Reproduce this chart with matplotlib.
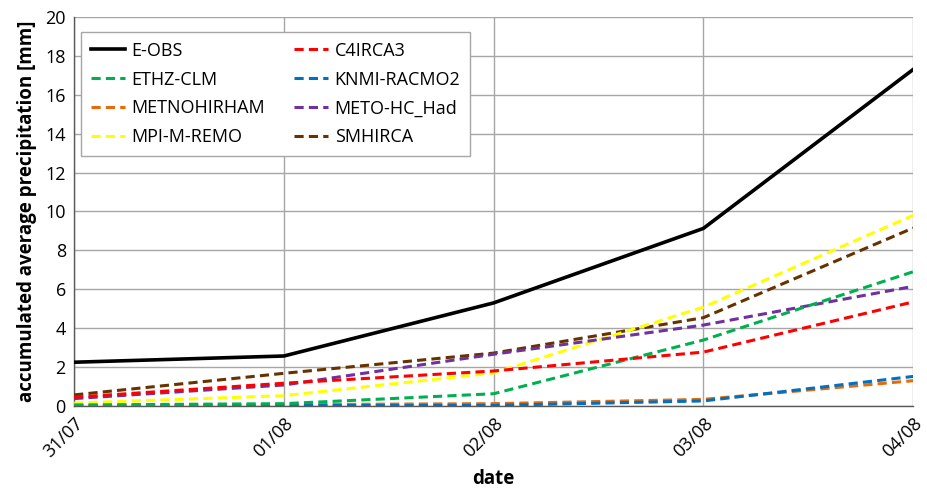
import matplotlib
matplotlib.use("Agg")
import matplotlib.pyplot as plt

plt.rcParams['font.family'] = ['Open Sans', 'DejaVu Sans']

dates = ['31/07', '01/08', '02/08', '03/08', '04/08']

e_obs = [2.25, 2.57, 5.3, 9.13, 17.3]
c4irca3 = [0.45, 1.17, 1.8, 2.77, 5.35]
ethz_clm = [0.05, 0.12, 0.63, 3.39, 6.9]
knmi_racmo2 = [0.0, 0.02, 0.03, 0.26, 1.52]
metnohirham = [0.03, 0.07, 0.12, 0.34, 1.3]
meto_hc_had = [0.38, 1.08, 2.66, 4.16, 6.15]
mpi_m_remo = [0.15, 0.53, 1.7, 5.08, 9.8]
smhirca = [0.57, 1.68, 2.72, 4.54, 9.15]

series = [
    ('E-OBS', e_obs, 'black', '-'),
    ('C4IRCA3', c4irca3, '#ff0000', '--'),
    ('ETHZ-CLM', ethz_clm, '#00b050', '--'),
    ('KNMI-RACMO2', knmi_racmo2, '#0070c0', '--'),
    ('METNOHIRHAM', metnohirham, '#e46c0a', '--'),
    ('METO-HC_Had', meto_hc_had, '#7030a0', '--'),
    ('MPI-M-REMO', mpi_m_remo, '#ffff00', '--'),
    ('SMHIRCA', smhirca, '#663300', '--'),
]

fig = plt.figure(figsize=(9.27, 4.93), dpi=100)
ax = fig.add_axes([0.08, 0.1765, 0.905, 0.789])

x = range(len(dates))
lines = {}
# draw the dashed models first so E-OBS sits on top
for name, vals, col, ls in series[::-1]:
    if ls == '-':
        l, = ax.plot(x, vals, color=col, lw=2.6, ls=ls, zorder=4)
    else:
        l, = ax.plot(x, vals, color=col, lw=2.2, ls=ls, dashes=(3, 1.7), zorder=3)
    lines[name] = l

ax.set_xlim(0, len(dates) - 1)
ax.set_ylim(0, 20)
ax.set_yticks(range(0, 21, 2))
ax.set_xticks(list(x))
ax.set_xticklabels(dates, rotation=45, ha='right', rotation_mode='anchor')
ax.tick_params(labelsize=13, length=0, pad=6)
ax.grid(True, color='#a6a6a6', lw=1.0)
ax.set_axisbelow(True)
for s in ['top', 'right']:
    ax.spines[s].set_visible(False)
for s in ['left', 'bottom']:
    ax.spines[s].set_color('#595959')
    ax.spines[s].set_linewidth(1.0)

ax.set_xlabel('date', fontsize=13.5, fontweight='bold', labelpad=6)
ax.set_ylabel('accumulated average precipitation [mm]', fontsize=13.5, fontweight='bold', labelpad=6)

# legend order: row-wise in reference, so interleave for column filling
order = ['E-OBS', 'ETHZ-CLM', 'METNOHIRHAM', 'MPI-M-REMO',
         'C4IRCA3', 'KNMI-RACMO2', 'METO-HC_Had', 'SMHIRCA']
leg = ax.legend([lines[n] for n in order], order, ncol=2, loc='upper left',
                bbox_to_anchor=(0.008, 0.962), borderaxespad=0, fontsize=13,
                fancybox=False, framealpha=1, edgecolor='#a6a6a6',
                handlelength=1.9, handletextpad=0.35, columnspacing=1.6,
                labelspacing=0.6, borderpad=0.55)
leg.get_frame().set_linewidth(1.0)

fig.savefig('out.png', dpi=100)
